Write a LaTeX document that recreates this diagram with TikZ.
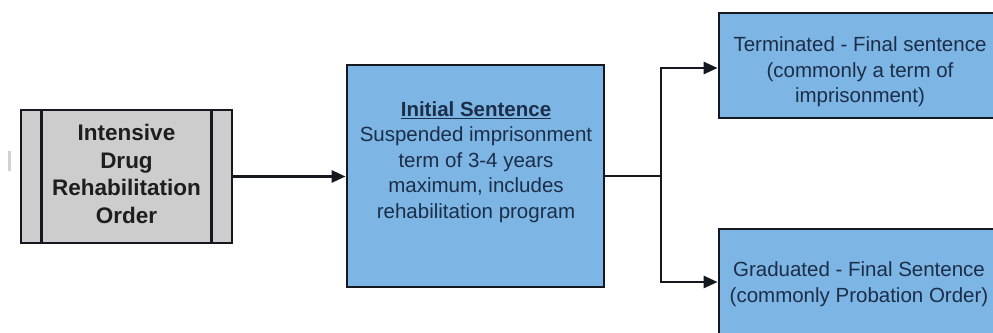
\documentclass[tikz,border=0pt]{standalone}
\usepackage{fontspec}
\setmainfont{Liberation Sans}
\usetikzlibrary{arrows.meta}
\definecolor{boxblue}{RGB}{125,181,228}
\definecolor{boxgray}{RGB}{205,205,205}
\definecolor{edgecol}{RGB}{22,24,32}
\definecolor{txtblue}{RGB}{28,46,72}
\definecolor{txtgray}{RGB}{30,30,30}
\begin{document}
\begin{tikzpicture}[x=1pt,y=-1pt,
  boxnode/.style={draw=edgecol, line width=2.8pt, rectangle, inner sep=0pt},
  bluebox/.style={boxnode, fill=boxblue},
  graybox/.style={boxnode, fill=boxgray},
  txtnode/.style={align=center, text=txtblue, inner sep=0pt, font=\fontsize{20.5}{25.5}\selectfont},
  boldtxt/.style={align=center, text=txtgray, inner sep=0pt, font=\fontsize{22.5}{27.5}\selectfont\bfseries},
  conn/.style={draw=edgecol, line width=2.8pt},
  arrowconn/.style={conn, -{Triangle[length=14pt,width=12pt]}}
]
\useasboundingbox (0,0) rectangle (993,332);
\clip (0,0) rectangle (993,332);

% faint mark at left
\draw[black!18, line width=3pt] (9,151) -- (9,171);

% left box
\node[graybox, minimum width=211pt, minimum height=133pt] (ido) at (126.5,176.5) {};
\draw[conn] ([xshift=22pt]ido.north west) -- ([xshift=22pt]ido.south west);
\draw[conn] ([xshift=-22pt]ido.north east) -- ([xshift=-22pt]ido.south east);
\node[boldtxt] (idotxt) at (126.5,174) {Intensive\\Drug\\Rehabilitation\\Order};

% middle box
\node[bluebox, minimum width=257pt, minimum height=222pt] (init) at (475.5,176) {};
\node[txtnode] (inittxt) at (476,162) {\textbf{\underline{Initial Sentence}}\\Suspended imprisonment\\term of 3-4 years\\maximum, includes\\rehabilitation program};

% right boxes
\node[bluebox, minimum width=282pt, minimum height=105pt] (term) at (860,65.5) {};
\node[txtnode] (termtxt) at (860,72) {Terminated - Final sentence\\(commonly a term of\\imprisonment)};
\node[bluebox, minimum width=282pt, minimum height=110pt] (grad) at (860,284) {};
\node[txtnode] (gradtxt) at (859,284) {Graduated - Final Sentence\\(commonly Probation Order)};

% connectors
\draw[arrowconn] (ido.east) -- (ido.east -| init.west);
\coordinate (split) at (661,176);
\draw[conn] (init.east) -- (split);
\draw[arrowconn] (split) |- ([yshift=-2.5pt]term.west);
\draw[arrowconn] (split) |- ([yshift=2pt]grad.west);
\end{tikzpicture}
\end{document}
